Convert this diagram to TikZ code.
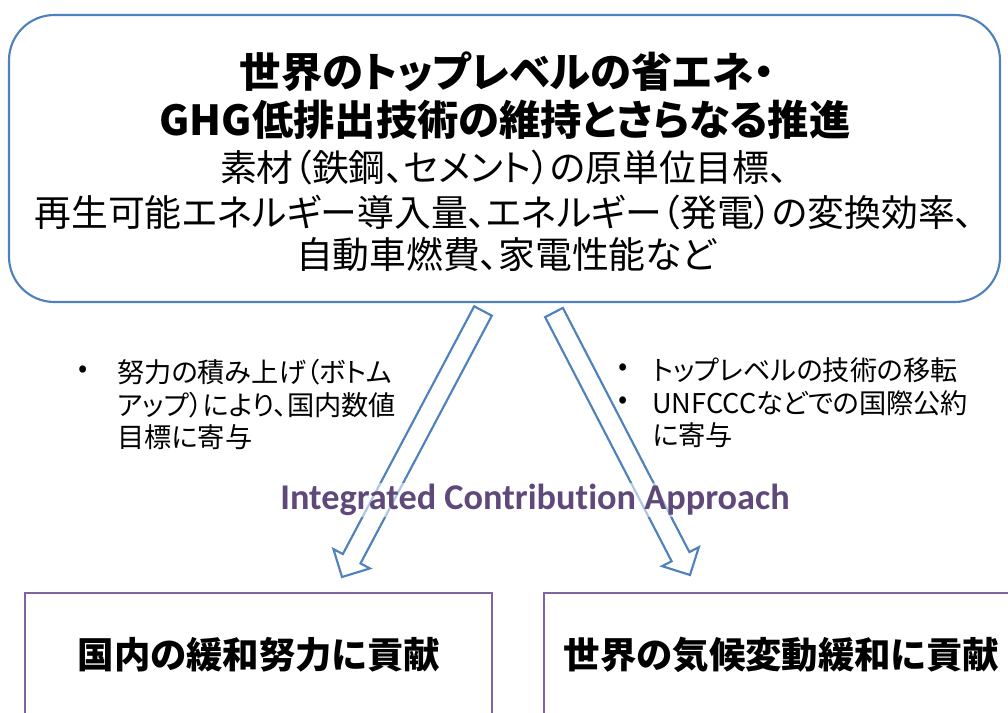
\documentclass[tikz,border=0pt]{standalone}
\usepackage{fontspec}
\usetikzlibrary{calc}
\newfontfamily\jp[RawFeature=+palt]{Noto Sans CJK JP}
\newfontfamily\carl[Ligatures=NoCommon]{Carlito}
\definecolor{boxblue}{HTML}{4F81BD}
\definecolor{boxpurple}{HTML}{8064A2}
\definecolor{textpurple}{HTML}{5F497A}
\tikzset{
  topbox/.style={draw=boxblue, line width=1.6pt, rounded corners=34pt, fill=white, inner sep=0pt, outer sep=0pt},
  resbox/.style={draw=boxpurple, line width=1.6pt, fill=white, inner sep=0pt, outer sep=0pt},
  blockarrow/.style={draw=boxblue, line width=1.6pt, fill=white, line join=miter},
  title/.style={font=\jp\bfseries\fontsize{31}{35}\selectfont, inner sep=0pt},
  body/.style={font=\jp\fontsize{27.6}{31}\selectfont, inner sep=0pt},
  bul/.style={font=\jp\fontsize{20.4}{24}\selectfont, inner sep=0pt, anchor=west},
  restext/.style={font=\jp\bfseries\fontsize{27.3}{30}\selectfont, inner sep=0pt},
  approach/.style={font=\carl\bfseries\fontsize{27.2}{31}\selectfont, text=textpurple, fill=white, fill opacity=0.55, text opacity=1, inner sep=1pt}
}
\newcommand{\blockarr}[3]{%
  \coordinate (#3n) at ($(#2)!15.5pt!(#1)$);
  \draw[blockarrow] ($(#1)!7.5pt!90:(#2)$) -- ($(#3n)!7.5pt!90:(#2)$) -- ($(#3n)!15.5pt!90:(#2)$) -- (#2) -- ($(#3n)!15.5pt!-90:(#2)$) -- ($(#3n)!7.5pt!-90:(#2)$) -- ($(#1)!7.5pt!-90:(#2)$) -- cycle;}
\begin{document}
\begin{tikzpicture}[x=0.75pt, y=-0.75pt]
\useasboundingbox (0,0) rectangle (1008,713);
\clip (0,0) rectangle (1008,713);
\fill[white] (0,0) rectangle (1008,713);
% top box
\node[topbox, minimum width=743.25pt, minimum height=215.25pt] (top) at (504.5,158.5) {};
\node[title] (t1) at (507,72) {世界のトップレベルの省エネ・};
\node[title] (t2) at (505,120) {GHG低排出技術の維持とさらなる推進};
\node[body] (t3) at (504,168) {素材（鉄鋼、セメント）の原単位目標、};
\node[body] (t4) at (504,213) {再生可能エネルギー導入量、エネルギー（発電）の変換効率、};
\node[body] (t5) at (506,255) {自動車燃費、家電性能など};
% result boxes
\node[resbox, minimum width=350.25pt, minimum height=112.5pt] (dom) at (258.5,668) {};
\node[resbox, minimum width=375pt, minimum height=112.5pt] (glob) at (794,668) {};
\node[restext] (domt) at (259,655) {国内の緩和努力に貢献};
\node[restext] (globt) at (781.5,655) {世界の気候変動緩和に貢献};
% arrows
\coordinate (la) at (483,311);
\coordinate (lb) at (342,577);
\coordinate (ra) at (554,312.5);
\coordinate (rb) at (690,575);
\blockarr{la}{lb}{lar}
\blockarr{ra}{rb}{rar}
% bullets
\node[bul] (lb0) at (78,372) {•};
\node[bul] (l1) at (117,372) {努力の積み上げ（ボトム};
\node[bul] (l2) at (117,405) {アップ）により、国内数値};
\node[bul] (l3) at (117,437) {目標に寄与};
\node[bul] (rb0) at (618,370) {•};
\node[bul] (rb1) at (618,403) {•};
\node[bul] (r1) at (652,370) {トップレベルの技術の移転};
\node[bul] (r2) at (652,403) {UNFCCCなどでの国際公約};
\node[bul] (r3) at (652,435) {に寄与};
% approach label
\node[approach] (app) at (535,500) {Integrated Contribution Approach};
\end{tikzpicture}
\end{document}
